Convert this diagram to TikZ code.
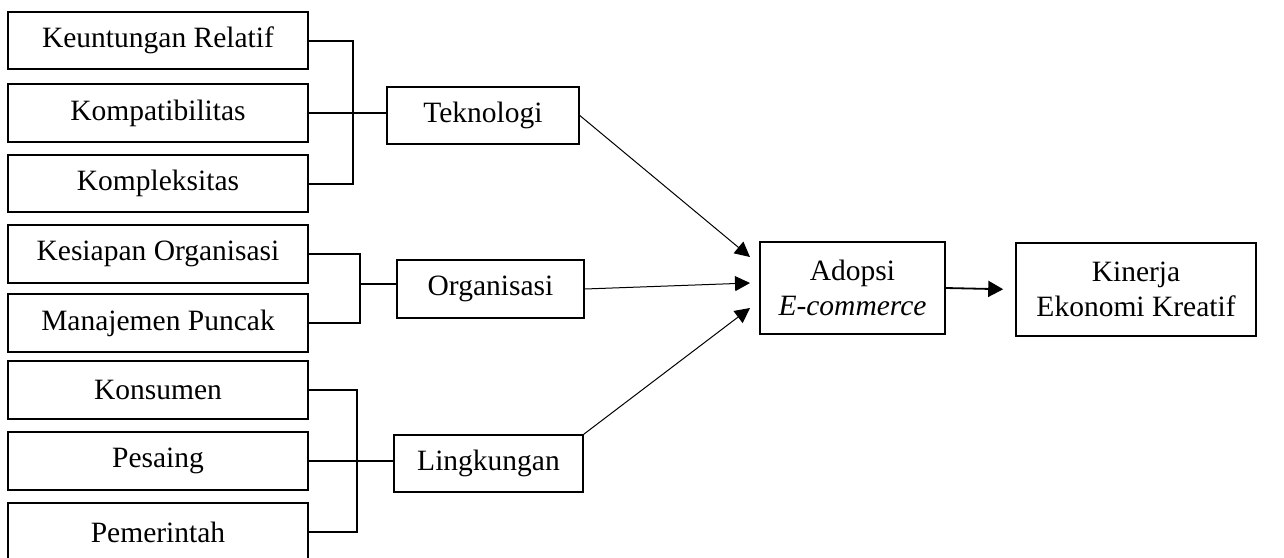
\documentclass[tikz,border=0pt]{standalone}
\usepackage{fontspec}
\setmainfont{Liberation Serif}
\usetikzlibrary{arrows.meta}
\begin{document}
\begin{tikzpicture}[x=1pt,y=-1pt,
  box/.style={draw,line width=1.6pt,inner sep=0pt,align=center,
    font=\fontsize{29.5}{35}\selectfont},
  lbox/.style={box,minimum width=300pt,minimum height=58pt},
  brk/.style={line width=2pt},
  arr/.style={line width=1pt,-{Triangle[length=15pt,width=15pt]}}]
\useasboundingbox (0,0) rectangle (1284,557);
% left boxes
\node[lbox,minimum height=57pt] (k1) at (158,40.5) {Keuntungan Relatif};
\node[lbox] (k2) at (158,113) {Kompatibilitas};
\node[lbox,minimum height=57pt] (k3) at (158,183.5) {Kompleksitas};
\node[lbox] (o1) at (158,254) {Kesiapan Organisasi};
\node[lbox] (o2) at (158,323) {Manajemen Puncak};
\node[lbox] (l1) at (158,390) {Konsumen};
\node[lbox] (l2) at (158,461) {Pesaing};
\node[lbox] (l3) at (158,532) {Pemerintah};
% middle boxes
\node[box,minimum width=192pt,minimum height=57pt] (tek) at (483,115.5) {Teknologi};
\node[box,minimum width=187pt,minimum height=58pt] (org) at (490.5,289) {Organisasi};
\node[box,minimum width=189pt,minimum height=57pt] (lin) at (488.5,463.5) {Lingkungan};
% right boxes
\node[box,minimum width=185pt,minimum height=92pt] (ado) at (852.5,288) {Adopsi\\\textit{E-commerce}};
\node[box,minimum width=240pt,minimum height=93pt] (kin) at (1136,289.5) {Kinerja\\Ekonomi Kreatif};
% brackets
\coordinate (tb) at (353,0);
\draw[brk] (k1.east) -- (k1.east -| tb) -- (k3.east -| tb) -- (k3.east);
\draw[brk] (k2.east) -- (k2.east -| tek.west);
\coordinate (ob) at (360,0);
\coordinate (om) at (360,284);
\draw[brk] (o1.east) -- (o1.east -| ob) -- (o2.east -| ob) -- (o2.east);
\draw[brk] (om) -- (om -| org.west);
\coordinate (lb) at (357,0);
\draw[brk] (l1.east) -- (l1.east -| lb) -- (l3.east -| lb) -- (l3.east);
\draw[brk] (l2.east) -- (l2.east -| lin.west);
% arrows
\coordinate (a1) at (750,257);
\coordinate (a2) at (750,283);
\coordinate (a3) at (750,308);
\draw[arr] (tek.east) -- (a1);
\draw[arr] (org.east) -- (a2);
\draw[arr] (lin.north east) -- (a3);
\draw[arr,line width=1.8pt,-{Triangle[length=15pt,width=16pt]},shorten >=12pt] (ado.east) -- (kin.west);
\end{tikzpicture}
\end{document}
